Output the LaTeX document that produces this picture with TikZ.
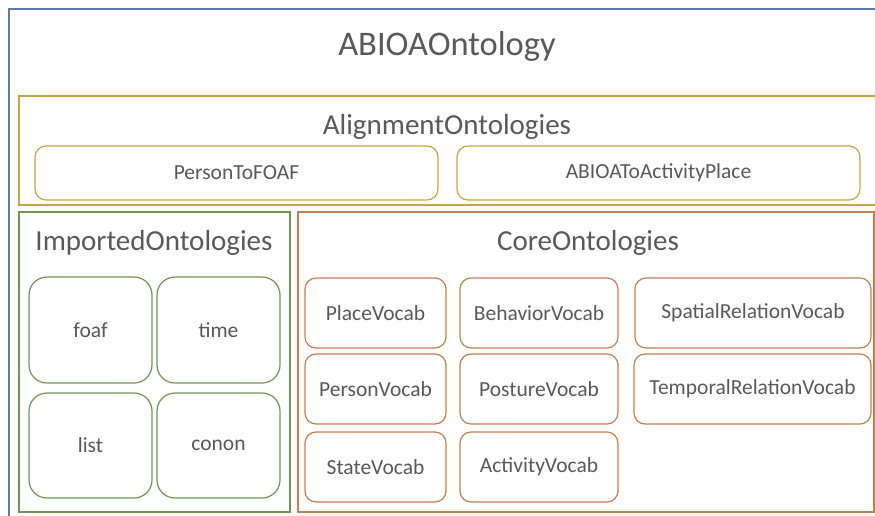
\documentclass[tikz,border=0pt]{standalone}
\usepackage{fontspec}
\setmainfont{Carlito}
\usepackage{xcolor}
\usepackage{tikz}
\usetikzlibrary{positioning}

\definecolor{ontoblue}{RGB}{90,124,168}
\definecolor{aligngold}{RGB}{196,168,62}
\definecolor{importgreen}{RGB}{112,150,82}
\definecolor{corebrown}{RGB}{196,128,80}
\definecolor{labelgray}{RGB}{89,89,89}

\tikzset{
  groupbox/.style={
    draw, line width=1.3pt, inner sep=0pt, fill=white
  },
  itembox/.style={
    draw, line width=1.2pt, rounded corners=11pt, inner sep=0pt,
    fill=white, text=labelgray, font=\fontsize{21.5}{25}\selectfont
  },
  bigitem/.style={itembox, rounded corners=18pt},
  grouptitle/.style={text=labelgray, font=\fontsize{29}{34}\selectfont},
  maintitle/.style={text=labelgray, font=\fontsize{34.5}{40}\selectfont},
}

\begin{document}
\begin{tikzpicture}[x=1pt, y=-1pt]
  \clip (0,0) rectangle (875,515);
  \fill[white] (0,0) rectangle (875,515);

  % outer package
  \node[groupbox, draw=ontoblue, minimum width=876pt, minimum height=516pt] (abioa) at (447,267) {};
  \node[maintitle] (abioatitle) at (447,46) {ABIOAOntology};

  % alignment ontologies
  \node[groupbox, draw=aligngold, minimum width=861pt, minimum height=109pt] (align) at (449.5,150.5) {};
  \node[grouptitle] (aligntitle) at (447,127) {AlignmentOntologies};
  \node[itembox, draw=aligngold, minimum width=403pt, minimum height=54pt] (persfoaf) at (236.5,173) {PersonToFOAF};
  \node[itembox, draw=aligngold, minimum width=403pt, minimum height=54pt] (abioaplace) at (658.5,173) {ABIOAToActivityPlace};

  % imported ontologies
  \node[groupbox, draw=importgreen, minimum width=271pt, minimum height=300pt] (imported) at (154.5,362) {};
  \node[grouptitle] (importedtitle) at (154,243) {ImportedOntologies};
  \node[bigitem, draw=importgreen, minimum width=123pt, minimum height=106pt] (foaf) at (90.5,330) {foaf};
  \node[bigitem, draw=importgreen, minimum width=123pt, minimum height=106pt] (time) at (218.5,330) {time};
  \node[bigitem, draw=importgreen, minimum width=123pt, minimum height=105pt] (list) at (90.5,445.5) {list};
  \node[bigitem, draw=importgreen, minimum width=123pt, minimum height=105pt] (conon) at (218.5,445.5) {conon};

  % core ontologies
  \node[groupbox, draw=corebrown, minimum width=576pt, minimum height=300pt] (core) at (586,362) {};
  \node[grouptitle] (coretitle) at (588,243) {CoreOntologies};
  \node[itembox, draw=corebrown, minimum width=141pt, minimum height=70pt] (place) at (375.5,313) {PlaceVocab};
  \node[itembox, draw=corebrown, minimum width=141pt, minimum height=70pt] (person) at (375.5,389) {PersonVocab};
  \node[itembox, draw=corebrown, minimum width=141pt, minimum height=70pt] (state) at (375.5,467) {StateVocab};
  \node[itembox, draw=corebrown, minimum width=158pt, minimum height=70pt] (behavior) at (539,313) {BehaviorVocab};
  \node[itembox, draw=corebrown, minimum width=158pt, minimum height=70pt] (posture) at (539,389) {PostureVocab};
  \node[itembox, draw=corebrown, minimum width=158pt, minimum height=70pt] (activity) at (539,467) {ActivityVocab};
  \node[itembox, draw=corebrown, minimum width=236pt, minimum height=70pt] (spatial) at (753,313) {SpatialRelationVocab};
  \node[itembox, draw=corebrown, minimum width=237pt, minimum height=70pt] (temporal) at (752.5,389) {TemporalRelationVocab};
\end{tikzpicture}
\end{document}
